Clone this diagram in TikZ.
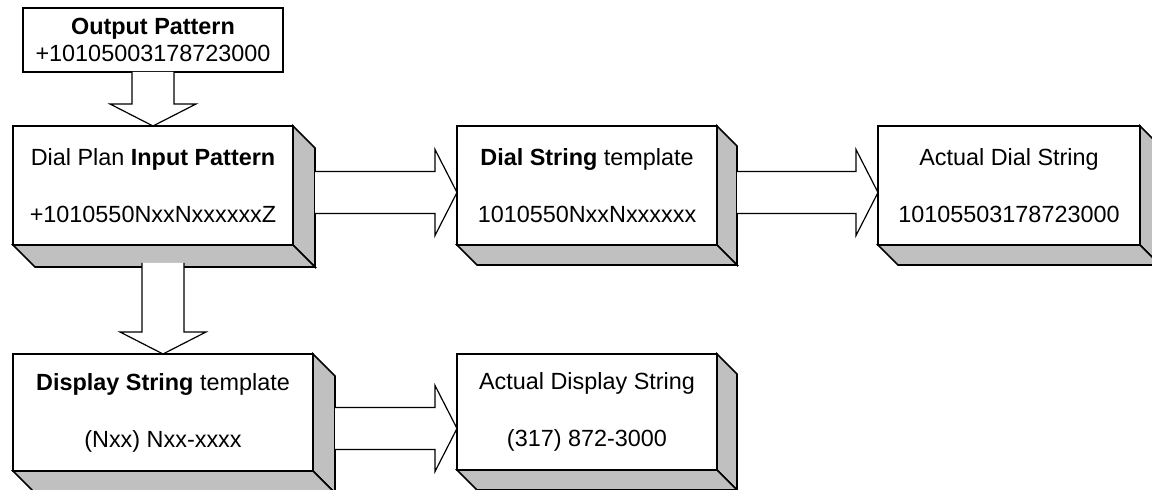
\documentclass[tikz,border=0pt]{standalone}
\usepackage{fontspec}
\setmainfont{Liberation Sans}
\usetikzlibrary{calc}
\definecolor{slabgray}{HTML}{C0C0C0}

\tikzset{
  box/.style={draw, line width=1pt, fill=white, inner sep=0pt, outer sep=0pt,
    align=center, font=\fontsize{11.7}{14}\selectfont},
  hollow/.style={draw, line width=0.6pt, fill=white, line join=miter}
}

% grey faces below and to the right of a box
\newcommand{\slab}[2]{%
  \filldraw[fill=slabgray, draw=black, line width=0.8pt] (#1.north east) -- ++(#2,#2)
    -- ($(#1.south east)+(#2,#2)$) -- (#1.south east) -- cycle;
  \filldraw[fill=slabgray, draw=black, line width=0.8pt] (#1.south west) -- ++(#2,#2)
    -- ($(#1.south east)+(#2,#2)$) -- (#1.south east) -- cycle;
}

% hollow block arrows: start, tip
\newcommand{\arrowright}[2]{%
  \filldraw[hollow] ($(#1)+(0,-21)$) -- ($(#2)+(-22,-21)$) -- ($(#2)+(-22,-43)$) -- (#2)
    -- ($(#2)+(-22,43)$) -- ($(#2)+(-22,21)$) -- ($(#1)+(0,21)$);
}
\newcommand{\arrowdown}[2]{%
  \filldraw[hollow] ($(#1)+(-21,0)$) -- ($(#2)+(-21,-22)$) -- ($(#2)+(-43,-22)$) -- (#2)
    -- ($(#2)+(43,-22)$) -- ($(#2)+(21,-22)$) -- ($(#1)+(21,0)$);
}

\begin{document}
\begin{tikzpicture}[x=0.5pt, y=-0.5pt]
    \useasboundingbox (0,0) rectangle (1152,490);

    % Boxes
    \node[box, minimum width=130pt, minimum height=32pt, font=\fontsize{11.7}{13.5}\selectfont]
        (out) at (153,40) {\textbf{Output Pattern}\\+10105003178723000};

    \node[box, minimum width=140pt, minimum height=59.5pt]
        (plan) at (153,185.5) {Dial Plan \textbf{Input Pattern}\\[14.5pt]+1010550NxxNxxxxxxZ};
    \node[box, minimum width=130pt, minimum height=59.5pt]
        (dial) at (587,185.5) {\textbf{Dial String} template\\[14.5pt]1010550NxxNxxxxxx};
    \node[box, minimum width=131pt, minimum height=59.5pt]
        (actdial) at (1009,185.5) {Actual Dial String\\[14.5pt]10105503178723000};

    \node[box, minimum width=150pt, minimum height=58.5pt]
        (disp) at (163,412.5) {\textbf{Display String} template\\[14.5pt](Nxx) Nxx-xxxx};
    \node[box, minimum width=130pt, minimum height=58pt]
        (actdisp) at (587,412) {Actual Display String\\[14.5pt](317) 872-3000};

    \slab{plan}{22}
    \slab{dial}{20}
    \slab{actdial}{20}
    \slab{disp}{22}
    \slab{actdisp}{20}

    % Arrows
    \coordinate (a1) at ($(plan.east)+(22,7)$);
    \coordinate (t1) at (dial.west |- a1);
    \coordinate (a2) at ($(dial.east)+(20,7)$);
    \coordinate (t2) at (actdial.west |- a2);
    \coordinate (a3) at ($(disp.east)+(22,16)$);
    \coordinate (t3) at (actdisp.west |- a3);
    \coordinate (d2) at ($(disp.north |- plan.south)+(0,18)$);

    \arrowdown{out.south}{plan.north}
    \arrowright{a1}{t1}
    \arrowright{a2}{t2}
    \arrowdown{d2}{disp.north}
    \arrowright{a3}{t3}
\end{tikzpicture}
\end{document}
